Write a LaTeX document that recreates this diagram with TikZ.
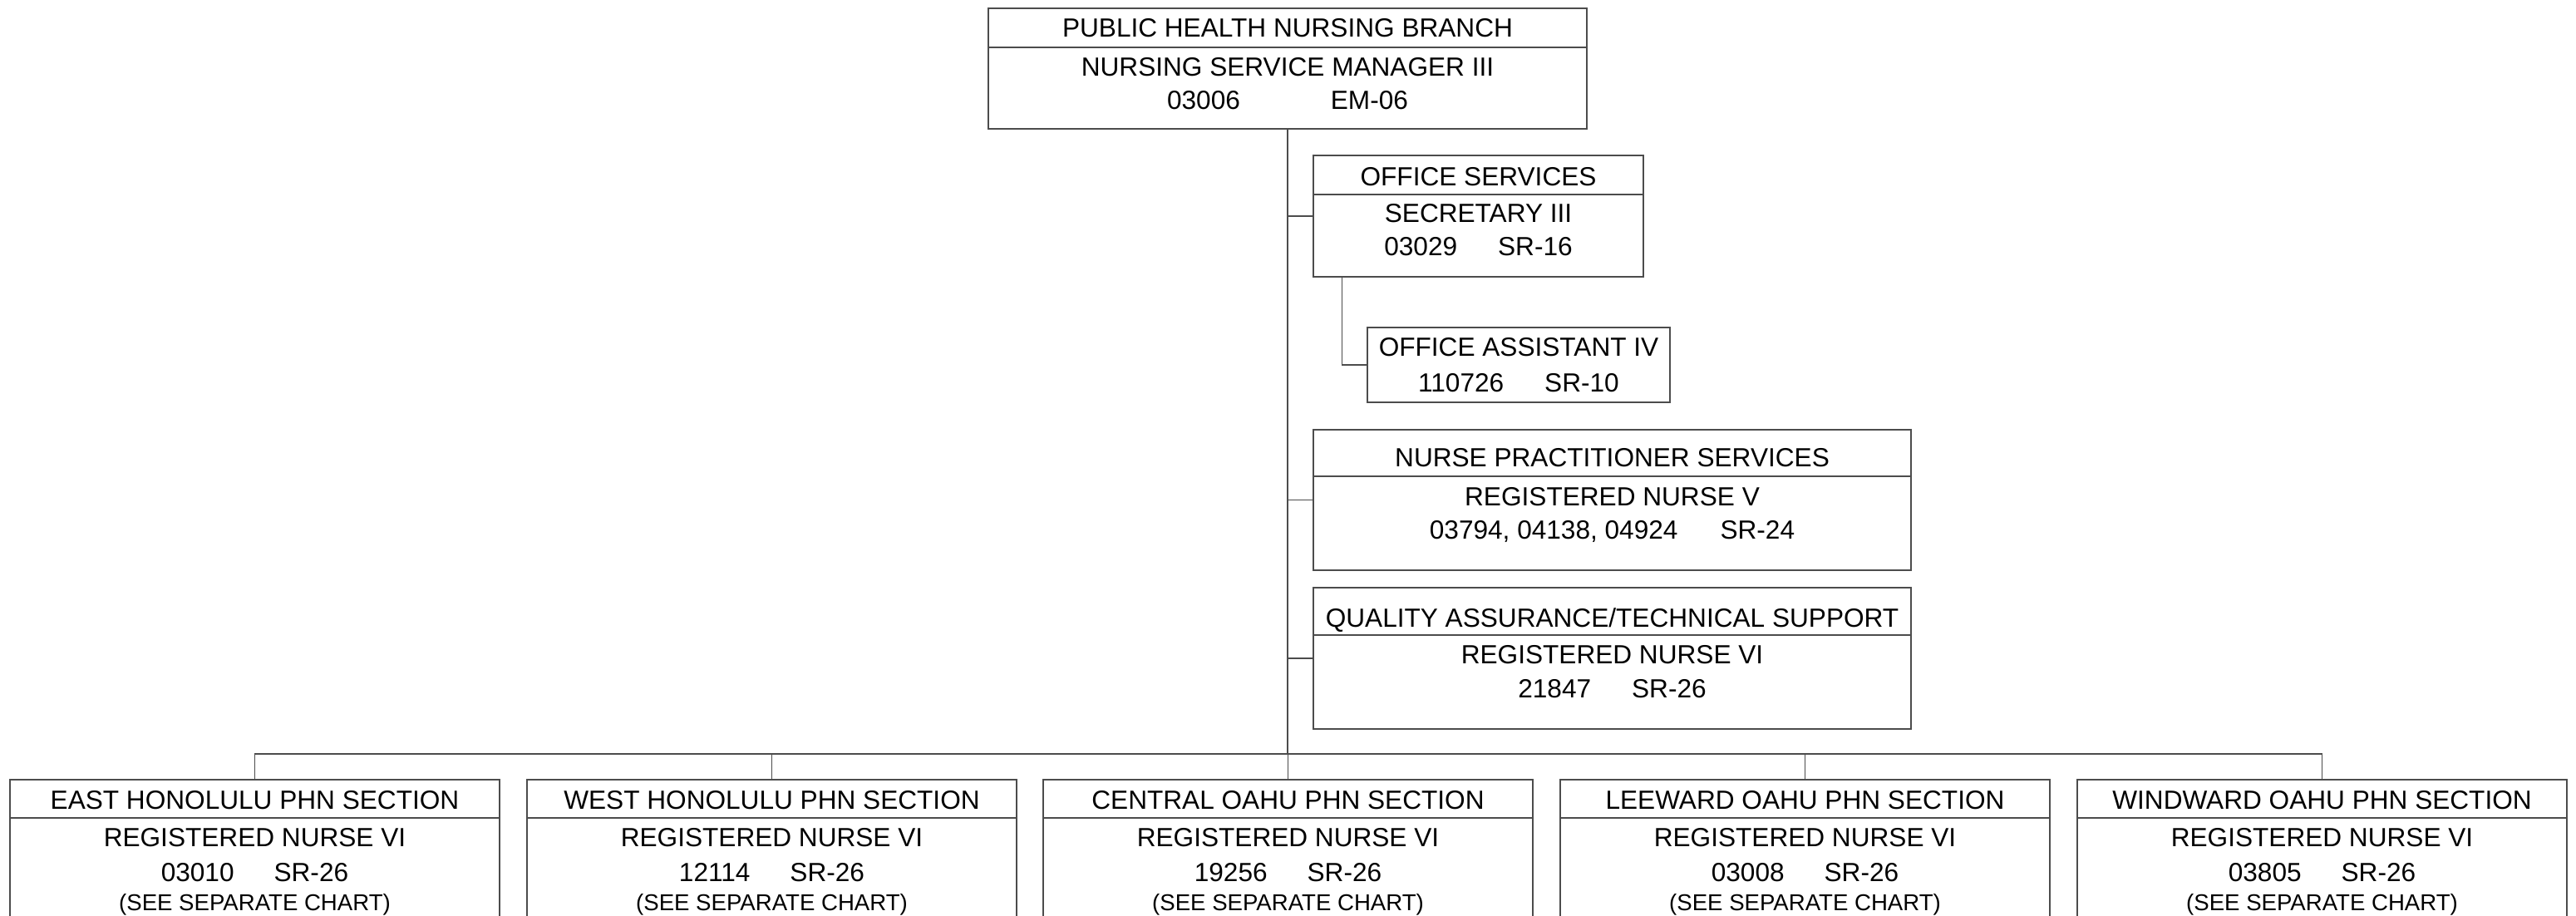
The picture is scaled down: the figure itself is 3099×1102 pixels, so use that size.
\documentclass[tikz,border=0pt]{standalone}
\usepackage{fontspec}
\setmainfont{Liberation Sans}
\definecolor{linecol}{gray}{0.3}
\begin{document}
\begin{tikzpicture}[x=0.5pt,y=-0.5pt,
  box/.style={draw=linecol, line width=0.8pt, inner sep=0pt, outer sep=0pt},
  divider/.style={draw=linecol, line width=0.8pt},
  conn/.style={draw=linecol, line width=0.75pt},
  txt/.style={anchor=base, inner sep=0pt, font=\fontsize{15.8}{18}\selectfont},
  smalltxt/.style={anchor=base, inner sep=0pt, font=\fontsize{13.8}{15}\selectfont}]
\useasboundingbox (0,0) rectangle (3099,1102);
\clip (0,0) rectangle (3099,1102);
\fill[white] (0,0) rectangle (3099,1102);

% top box
\node[box, minimum width=360pt, minimum height=72.5pt] (top) at (1549,82.5) {};
\draw[divider] ([yshift=-23.5pt]top.north west) -- ([yshift=-23.5pt]top.north east);
\node[txt] (top1) at (1549,45) {PUBLIC HEALTH NURSING BRANCH};
\node[txt] (top2) at (1549,92) {NURSING SERVICE MANAGER III};
\node[txt] (top3) at (1549,132) {03006\hspace{54.5pt}EM-06};

% office services
\node[box, minimum width=198.5pt, minimum height=73pt] (os) at (1778.5,260) {};
\draw[divider] ([yshift=-23.5pt]os.north west) -- ([yshift=-23.5pt]os.north east);
\node[txt] (os1) at (1778.5,223) {OFFICE SERVICES};
\node[txt] (os2) at (1778.5,267) {SECRETARY III};
\node[txt] (os3) at (1778.5,307) {03029\hspace{24.5pt}SR-16};

% office assistant
\node[box, minimum width=182pt, minimum height=45pt] (oa) at (1827,439) {};
\node[txt] (oa1) at (1827,428) {OFFICE ASSISTANT IV};
\node[txt] (oa2) at (1827,471) {110726\hspace{24.5pt}SR-10};

% nurse practitioner
\node[box, minimum width=359.5pt, minimum height=84.5pt] (np) at (1939.5,601.5) {};
\draw[divider] ([yshift=-28pt]np.north west) -- ([yshift=-28pt]np.north east);
\node[txt] (np1) at (1939.5,561) {NURSE PRACTITIONER SERVICES};
\node[txt] (np2) at (1939.5,608) {REGISTERED NURSE V};
\node[txt] (np3) at (1939.5,648) {03794, 04138, 04924\hspace{25.5pt}SR-24};

% quality assurance
\node[box, minimum width=359.5pt, minimum height=85pt] (qa) at (1939.5,792) {};
\draw[divider] ([yshift=-28.5pt]qa.north west) -- ([yshift=-28.5pt]qa.north east);
\node[txt] (qa1) at (1939.5,754) {QUALITY ASSURANCE/TECHNICAL SUPPORT};
\node[txt] (qa2) at (1939.5,798) {REGISTERED NURSE VI};
\node[txt] (qa3) at (1939.5,839) {21847\hspace{24.5pt}SR-26};

% bottom sections
\foreach \nm/\cx/\ttl/\num in {east/306.5/EAST HONOLULU PHN SECTION/03010,
                              west/928.5/WEST HONOLULU PHN SECTION/12114,
                              central/1549.5/CENTRAL OAHU PHN SECTION/19256,
                              leeward/2171.5/LEEWARD OAHU PHN SECTION/03008,
                              windward/2793.5/WINDWARD OAHU PHN SECTION/03805}{
  \node[box, minimum width=294.5pt, minimum height=101pt] (\nm) at (\cx,1039) {};
  \draw[divider] ([yshift=-23pt]\nm.north west) -- ([yshift=-23pt]\nm.north east);
  \node[txt] (\nm1) at (\cx,973) {\ttl};
  \node[txt] (\nm2) at (\cx,1018) {REGISTERED NURSE VI};
  \node[txt] (\nm3) at (\cx,1060) {\num\hspace{24pt}SR-26};
  \node[smalltxt] (\nm4) at (\cx,1095) {(SEE SEPARATE CHART)};
}

% connectors
\coordinate (bus) at (1549,907);
\draw[conn] (top.south) -- (bus);
\draw[conn] (os.west -| top.south) -- (os.west);
\draw[conn] (np.west -| top.south) -- (np.west);
\draw[conn] (qa.west -| top.south) -- (qa.west);
\draw[conn] ([xshift=17.25pt]os.south west) |- (oa.west);
\draw[conn] (east.north) -- (east.north |- bus) -- (windward.north |- bus) -- (windward.north);
\draw[conn] (west.north) -- (west.north |- bus);
\draw[conn] (central.north) -- (central.north |- bus);
\draw[conn] (leeward.north) -- (leeward.north |- bus);
\end{tikzpicture}
\end{document}
